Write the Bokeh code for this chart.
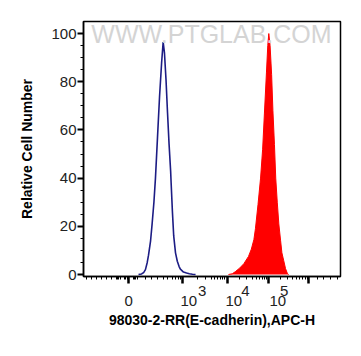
from bokeh.plotting import figure
from bokeh.models import FixedTicker, Label, LinearAxis
from bokeh.embed import file_html
from bokeh.resources import INLINE

# Display-scale (channel 0-1000) positions of histogram points
blue_x = [214, 226, 228, 234, 241, 248, 253, 261, 267, 274, 280, 288, 296, 304, 310, 315,
          321, 327, 333, 339, 341, 346, 351, 358, 365, 372, 377, 389, 401, 412, 424, 436]
blue_y = [0, 0.2, 0.4, 0.8, 2, 5, 8, 14, 21, 30, 40, 57, 74, 88, 96.5, 92,
          81, 67, 54, 43, 38, 26, 16, 9, 5.5, 3.3, 2.2, 1, 0.6, 0.3, 0.1, 0]

red_x = [564, 579, 591, 607, 624, 642, 653, 663, 669, 679, 689, 697, 704, 712, 717, 721, 726,
         732, 737, 743, 748, 754, 760, 767, 772, 779, 786, 793, 798]
red_y = [0, 0.3, 1.2, 2.6, 4.5, 7.5, 10.5, 14.5, 19, 29, 40, 52, 67, 84, 95, 100, 95,
         83, 68, 54, 40, 30, 21, 14, 9, 5.8, 2.5, 0.5, 0]

# tick marks (display channel)
x_major = [175, 384, 559, 721, 877]
x_minor = [12, 31, 51, 70, 90, 109,
           127, 132, 138, 144,
           160, 165, 170,
           193, 198, 204, 210,
           241, 265, 287, 310, 328, 345, 358, 369, 377,
           442, 475, 497, 511, 523, 533, 542, 550,
           608, 636, 656, 672, 685, 696, 705, 714,
           768, 795, 815, 830, 842, 853, 862, 870,
           909, 935, 961, 987]

# tick label texts and where they sit
x_base_pos = [176, 410, 585, 756]
x_base_text = ["0", "10", "10", "10"]
x_exp_pos = [462, 630, 781]
x_exp_text = ["3", "4", "5"]

y_major = [0, 20, 40, 60, 80, 100]
y_minor = [5, 10, 15, 25, 30, 35, 45, 50, 55, 65, 70, 75, 85, 90, 95]

x_title = "98030-2-RR(E-cadherin),APC-H"
y_title = "Relative Cell Number"
watermark = "WWW.PTGLAB.COM"

FONT = "Liberation Sans"
LBL = "#222222"

p = figure(width=353, height=348, x_range=(0, 1000), y_range=(-0.83, 105),
           output_backend="svg", toolbar_location=None,
           min_border_left=83, min_border_right=13, min_border_top=21, min_border_bottom=72)
p.grid.visible = False
p.outline_line_color = "black"
p.outline_line_width = 1.5
p.background_fill_color = "white"
p.border_fill_color = "white"

p.add_layout(Label(x=498, y=100, text=watermark, text_align="center", text_baseline="middle",
                   text_font=FONT, text_font_size="25px", text_color="#d4d4d4"))

p.varea(x=red_x, y1=0, y2=red_y, fill_color="#ff0000")
p.line(x=red_x, y=red_y, line_color="#ff0000", line_width=1)
p.line(x=blue_x, y=blue_y, line_color="#1c1c84", line_width=1.6)

# axis A: tick marks only
xa = p.xaxis[0]
xa.ticker = FixedTicker(ticks=x_major, minor_ticks=x_minor)
xa.major_label_text_color = None
xa.major_label_text_font_size = "1px"
xa.major_label_standoff = 0
xa.major_tick_out = 7
xa.major_tick_in = 0
xa.major_tick_line_width = 2.5
xa.minor_tick_out = 3
xa.minor_tick_in = 0
xa.minor_tick_line_width = 1
xa.axis_line_width = 1.5


def text_axis(ticks, texts, standoff):
    ax = LinearAxis(ticker=FixedTicker(ticks=ticks, minor_ticks=[]),
                    major_label_overrides={t: s for t, s in zip(ticks, texts)})
    ax.axis_line_color = None
    ax.major_tick_line_color = None
    ax.minor_tick_line_color = None
    ax.major_tick_out = 0
    ax.major_tick_in = 0
    ax.minor_tick_out = 0
    ax.minor_tick_in = 0
    ax.major_label_text_font = FONT
    ax.major_label_text_font_size = "15px"
    ax.major_label_text_color = LBL
    ax.major_label_standoff = standoff
    return ax


# axis B: exponents
xb = text_axis(x_exp_pos, x_exp_text, 2)
p.add_layout(xb, "below")

# axis C: bases + title
xc = text_axis(x_base_pos, x_base_text, -3)
xc.axis_label = x_title
xc.axis_label_text_font = FONT
xc.axis_label_text_font_style = "bold"
xc.axis_label_text_font_size = "14px"
xc.axis_label_text_color = "black"
xc.axis_label_standoff = 3
p.add_layout(xc, "below")

ya = p.yaxis[0]
ya.ticker = FixedTicker(ticks=y_major, minor_ticks=y_minor)
ya.major_label_text_font = FONT
ya.major_label_text_font_size = "15px"
ya.major_label_text_color = LBL
ya.major_label_standoff = 1
ya.major_tick_out = 6
ya.major_tick_in = 0
ya.major_tick_line_width = 2
ya.minor_tick_out = 3
ya.minor_tick_in = 0
ya.axis_line_width = 1.5
ya.axis_label = y_title
ya.axis_label_text_font = FONT
ya.axis_label_text_font_style = "bold"
ya.axis_label_text_font_size = "14px"
ya.axis_label_text_color = "black"
ya.axis_label_standoff = 13

open("out.html", "w").write(file_html(p, INLINE))
